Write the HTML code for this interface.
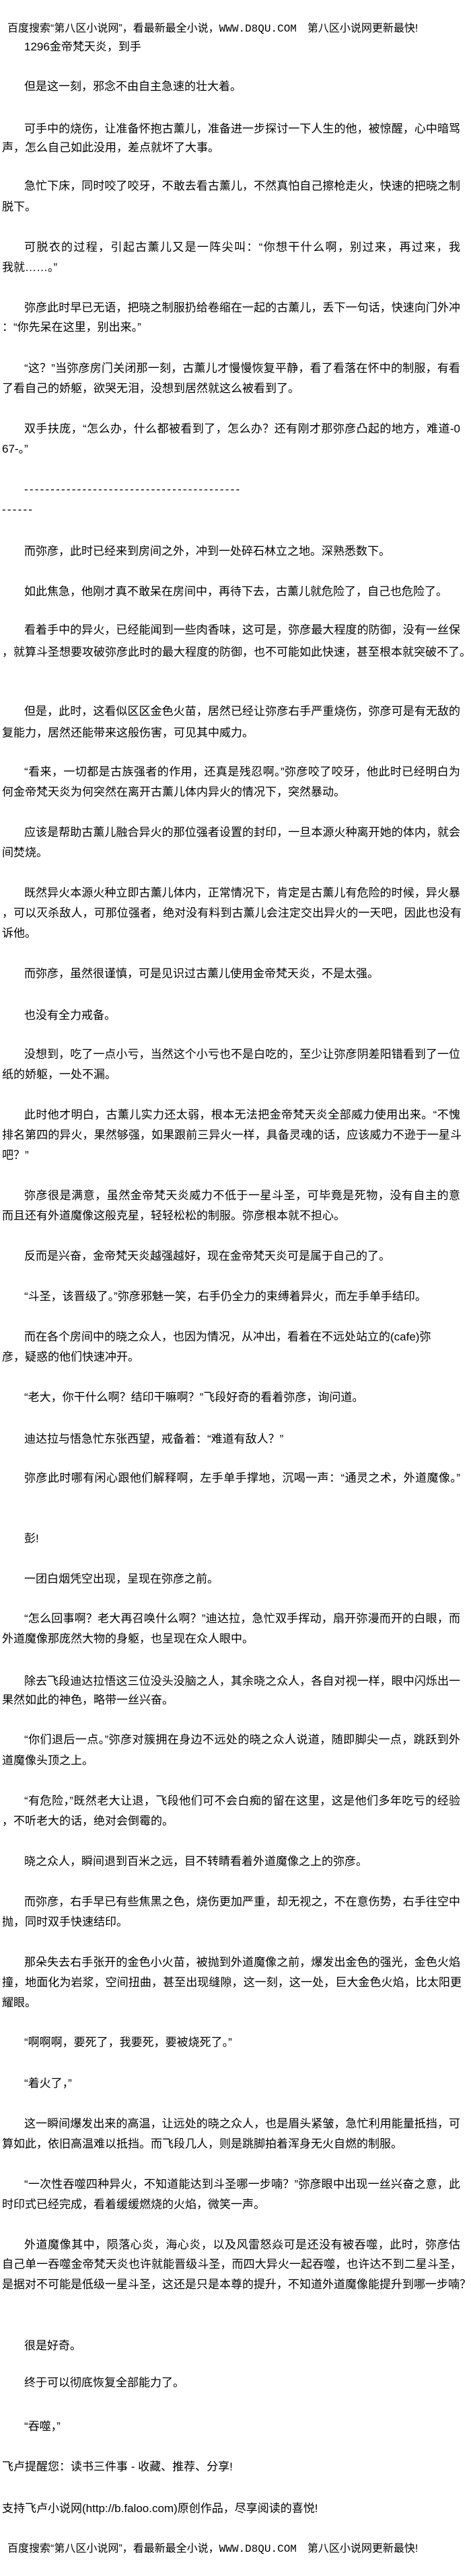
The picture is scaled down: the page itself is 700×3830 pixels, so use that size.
<!DOCTYPE html>
<html><head><meta charset="utf-8"><style>
html,body{margin:0;padding:0;background:#fff;}
body{width:700px;height:3830px;position:relative;overflow:hidden;color:#000;font-family:"Liberation Sans","Noto Sans CJK SC",sans-serif;}
.l{position:absolute;white-space:nowrap;font-size:17px;line-height:20px;height:20px;left:36px;}
.c{left:3px;}
.j{text-align:justify;text-align-last:justify;white-space:normal;overflow:hidden;}
.i.j{left:36px;width:648px;}
.c.j{left:3px;width:683px;}
.h{left:11px;font-size:16px;}
.m{font-family:"Liberation Mono",monospace;}
.d{letter-spacing:2.2px;}
</style></head><body>
<div class="l h" style="top:33px">百度搜索“第八区小说网”，看最新最全小说，<span class="m">WWW.D8QU.COM</span>　第八区小说网更新最快!</div>
<div class="l" style="top:60px">1296金帝梵天炎，到手</div>
<div class="l" style="top:119px">但是这一刻，邪念不由自主急速的壮大着。</div>
<div class="l i j" style="top:182px">可手中的烧伤，让准备怀抱古薰儿，准备进一步探讨一下人生的他，被惊醒，心中暗骂一</div>
<div class="l c" style="top:210px">声，怎么自己如此没用，差点就坏了大事。</div>
<div class="l i j" style="top:267px">急忙下床，同时咬了咬牙，不敢去看古薰儿，不然真怕自己擦枪走火，快速的把晓之制服</div>
<div class="l c" style="top:298px">脱下。</div>
<div class="l i j" style="top:358px">可脱衣的过程，引起古薰儿又是一阵尖叫：“你想干什么啊，别过来，再过来，我就……</div>
<div class="l c" style="top:388px">我就……。”</div>
<div class="l i j" style="top:448px">弥彦此时早已无语，把晓之制服扔给卷缩在一起的古薰儿，丢下一句话，快速向门外冲去</div>
<div class="l c" style="top:477px">：“你先呆在这里，别出来。”</div>
<div class="l i j" style="top:538px">“这？”当弥彦房门关闭那一刻，古薰儿才慢慢恢复平静，看了看落在怀中的制服，有看</div>
<div class="l c" style="top:568px">了看自己的娇躯，欲哭无泪，没想到居然就这么被看到了。</div>
<div class="l i j" style="top:628px">双手扶庞，“怎么办，什么都被看到了，怎么办？还有刚才那弥彦凸起的地方，难道-0</div>
<div class="l c" style="top:658px">67-。”</div>
<div class="l d" style="top:718px">-----------------------------------------</div>
<div class="l c d" style="top:748px">------</div>
<div class="l" style="top:810px">而弥彦，此时已经来到房间之外，冲到一处碎石林立之地。深熟悉数下。</div>
<div class="l" style="top:870px">如此焦急，他刚才真不敢呆在房间中，再待下去，古薰儿就危险了，自己也危险了。</div>
<div class="l i j" style="top:927px">看着手中的异火，已经能闻到一些肉香味，这可是，弥彦最大程度的防御，没有一丝保留</div>
<div class="l c" style="top:960px">，就算斗圣想要攻破弥彦此时的最大程度的防御，也不可能如此快速，甚至根本就突破不了。</div>
<div class="l i j" style="top:1048px">但是，此时，这看似区区金色火苗，居然已经让弥彦右手严重烧伤，弥彦可是有无敌的恢</div>
<div class="l c" style="top:1080px">复能力，居然还能带来这般伤害，可见其中威力。</div>
<div class="l i j" style="top:1138px">“看来，一切都是古族强者的作用，还真是残忍啊。”弥彦咬了咬牙，他此时已经明白为</div>
<div class="l c" style="top:1168px">何金帝梵天炎为何突然在离开古薰儿体内异火的情况下，突然暴动。</div>
<div class="l i j" style="top:1228px">应该是帮助古薰儿融合异火的那位强者设置的封印，一旦本源火种离开她的体内，就会瞬</div>
<div class="l c" style="top:1258px">间焚烧。</div>
<div class="l i j" style="top:1318px">既然异火本源火种立即古薰儿体内，正常情况下，肯定是古薰儿有危险的时候，异火暴动</div>
<div class="l c j" style="top:1348px">，可以灭杀敌人，可那位强者，绝对没有料到古薰儿会注定交出异火的一天吧，因此也没有告</div>
<div class="l c" style="top:1378px">诉他。</div>
<div class="l" style="top:1438px">而弥彦，虽然很谨慎，可是见识过古薰儿使用金帝梵天炎，不是太强。</div>
<div class="l" style="top:1500px">也没有全力戒备。</div>
<div class="l i j" style="top:1558px">没想到，吃了一点小亏，当然这个小亏也不是白吃的，至少让弥彦阴差阳错看到了一位妹</div>
<div class="l c" style="top:1588px">纸的娇躯，一处不漏。</div>
<div class="l i j" style="top:1648px">此时他才明白，古薰儿实力还太弱，根本无法把金帝梵天炎全部威力使用出来。“不愧为</div>
<div class="l c j" style="top:1678px">排名第四的异火，果然够强，如果跟前三异火一样，具备灵魂的话，应该威力不逊于一星斗圣</div>
<div class="l c" style="top:1708px">吧？”</div>
<div class="l i j" style="top:1768px">弥彦很是满意，虽然金帝梵天炎威力不低于一星斗圣，可毕竟是死物，没有自主的意识，</div>
<div class="l c" style="top:1798px">而且还有外道魔像这般克星，轻轻松松的制服。弥彦根本就不担心。</div>
<div class="l" style="top:1858px">反而是兴奋，金帝梵天炎越强越好，现在金帝梵天炎可是属于自己的了。</div>
<div class="l" style="top:1918px">“斗圣，该晋级了。”弥彦邪魅一笑，右手仍全力的束缚着异火，而左手单手结印。</div>
<div class="l" style="top:1978px">而在各个房间中的晓之众人，也因为情况，从冲出，看着在不远处站立的(cafe)弥</div>
<div class="l c" style="top:2008px">彦，疑惑的他们快速冲开。</div>
<div class="l" style="top:2068px">“老大，你干什么啊？结印干嘛啊？”飞段好奇的看着弥彦，询问道。</div>
<div class="l" style="top:2130px">迪达拉与悟急忙东张西望，戒备着：“难道有敌人？”</div>
<div class="l i j" style="top:2188px">弥彦此时哪有闲心跟他们解释啊，左手单手撑地，沉喝一声：“通灵之术，外道魔像。”</div>
<div class="l" style="top:2278px">彭!</div>
<div class="l" style="top:2338px">一团白烟凭空出现，呈现在弥彦之前。</div>
<div class="l i j" style="top:2397px">“怎么回事啊？老大再召唤什么啊？”迪达拉，急忙双手挥动，扇开弥漫而开的白眼，而</div>
<div class="l c" style="top:2427px">外道魔像那庞然大物的身躯，也呈现在众人眼中。</div>
<div class="l i j" style="top:2490px">除去飞段迪达拉悟这三位没头没脑之人，其余晓之众人，各自对视一样，眼中闪烁出一丝</div>
<div class="l c" style="top:2518px">果然如此的神色，略带一丝兴奋。</div>
<div class="l i j" style="top:2577px">“你们退后一点。”弥彦对簇拥在身边不远处的晓之众人说道，随即脚尖一点，跳跃到外</div>
<div class="l c" style="top:2608px">道魔像头顶之上。</div>
<div class="l i j" style="top:2668px">“有危险，”既然老大让退，飞段他们可不会白痴的留在这里，这是他们多年吃亏的经验</div>
<div class="l c" style="top:2698px">，不听老大的话，绝对会倒霉的。</div>
<div class="l" style="top:2758px">晓之众人，瞬间退到百米之远，目不转睛看着外道魔像之上的弥彦。</div>
<div class="l i j" style="top:2818px">而弥彦，右手早已有些焦黑之色，烧伤更加严重，却无视之，不在意伤势，右手往空中一</div>
<div class="l c" style="top:2848px">抛，同时双手快速结印。</div>
<div class="l i j" style="top:2908px">那朵失去右手张开的金色小火苗，被抛到外道魔像之前，爆发出金色的强光，金色火焰碰</div>
<div class="l c j" style="top:2938px">撞，地面化为岩浆，空间扭曲，甚至出现缝隙，这一刻，这一处，巨大金色火焰，比太阳更加</div>
<div class="l c" style="top:2968px">耀眼。</div>
<div class="l" style="top:3027px">“啊啊啊，要死了，我要死，要被烧死了。”</div>
<div class="l" style="top:3088px">“着火了，”</div>
<div class="l i j" style="top:3148px">这一瞬间爆发出来的高温，让远处的晓之众人，也是眉头紧皱，急忙利用能量抵挡，可就</div>
<div class="l c" style="top:3178px">算如此，依旧高温难以抵挡。而飞段几人，则是跳脚拍着浑身无火自燃的制服。</div>
<div class="l i j" style="top:3238px">“一次性吞噬四种异火，不知道能达到斗圣哪一步喃？”弥彦眼中出现一丝兴奋之意，此</div>
<div class="l c" style="top:3268px">时印式已经完成，看着缓缓燃烧的火焰，微笑一声。</div>
<div class="l i j" style="top:3328px">外道魔像其中，陨落心炎，海心炎，以及风雷怒焱可是还没有被吞噬，此时，弥彦估计，</div>
<div class="l c j" style="top:3357px">自己单一吞噬金帝梵天炎也许就能晋级斗圣，而四大异火一起吞噬，也许达不到二星斗圣，但</div>
<div class="l c" style="top:3387px">是据对不可能是低级一星斗圣，这还是只是本尊的提升，不知道外道魔像能提升到哪一步喃？</div>
<div class="l" style="top:3478px">很是好奇。</div>
<div class="l" style="top:3533px">终于可以彻底恢复全部能力了。</div>
<div class="l" style="top:3598px">“吞噬，”</div>
<div class="l c" style="top:3658px">飞卢提醒您：读书三件事 - 收藏、推荐、分享!</div>
<div class="l c" style="top:3720px">支持飞卢小说网(http://b.faloo.com)原创作品，尽享阅读的喜悦!</div>
<div class="l h" style="top:3780px">百度搜索“第八区小说网”，看最新最全小说，<span class="m">WWW.D8QU.COM</span>　第八区小说网更新最快!</div>
</body></html>
